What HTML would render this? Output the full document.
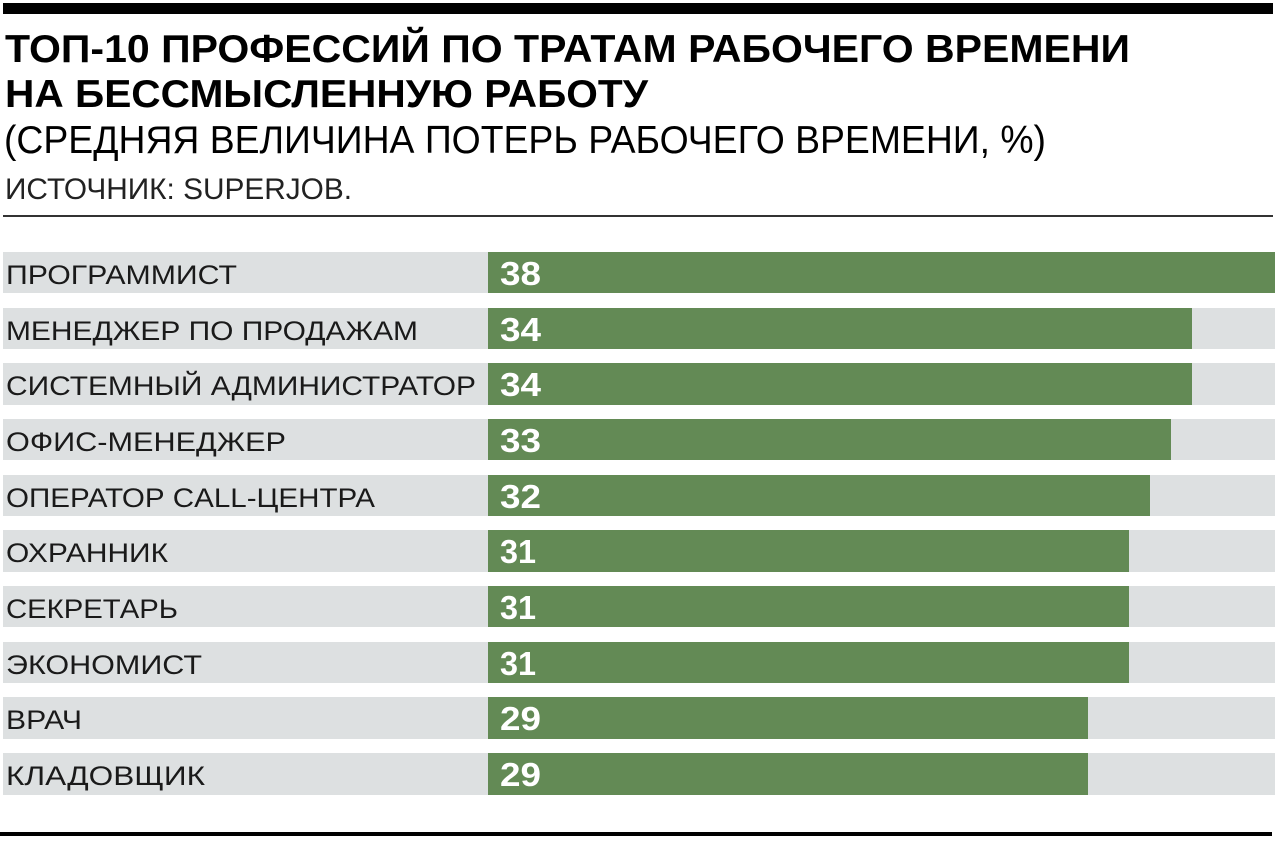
<!DOCTYPE html>
<html><head><meta charset="utf-8"><style>
html,body{margin:0;padding:0;background:#fff;width:1280px;height:845px;overflow:hidden}
svg{display:block}
</style></head><body>
<svg width="1280" height="845" viewBox="0 0 1280 845" xmlns="http://www.w3.org/2000/svg" font-family="Liberation Sans, sans-serif">
<rect x="3" y="3" width="1270" height="11" fill="#000"/>
<text x="5" y="62" font-size="39" font-weight="bold" textLength="1125" lengthAdjust="spacingAndGlyphs">ТОП-10 ПРОФЕССИЙ ПО ТРАТАМ РАБОЧЕГО ВРЕМЕНИ</text>
<text x="5" y="107" font-size="39" font-weight="bold" textLength="643" lengthAdjust="spacingAndGlyphs">НА БЕССМЫСЛЕННУЮ РАБОТУ</text>
<text x="4" y="153" font-size="39" textLength="1042" lengthAdjust="spacingAndGlyphs">(СРЕДНЯЯ ВЕЛИЧИНА ПОТЕРЬ РАБОЧЕГО ВРЕМЕНИ, %)</text>
<text x="5" y="199" font-size="30" fill="#222" textLength="347" lengthAdjust="spacingAndGlyphs">ИСТОЧНИК: SUPERJOB.</text>
<rect x="3" y="215" width="1270" height="2" fill="#333"/>
<g fill="#dde0e1">
<rect x="3" y="252" width="1272" height="41"/><rect x="3" y="308" width="1272" height="41"/><rect x="3" y="363" width="1272" height="42"/><rect x="3" y="419" width="1272" height="41"/><rect x="3" y="475" width="1272" height="41"/><rect x="3" y="530" width="1272" height="42"/><rect x="3" y="586" width="1272" height="41"/><rect x="3" y="642" width="1272" height="41"/><rect x="3" y="697" width="1272" height="42"/><rect x="3" y="753" width="1272" height="42"/>
</g>
<g fill="#638a55">
<rect x="488" y="252" width="787" height="41"/><rect x="488" y="308" width="704" height="41"/><rect x="488" y="363" width="704" height="42"/><rect x="488" y="419" width="683" height="41"/><rect x="488" y="475" width="662" height="41"/><rect x="488" y="530" width="641" height="42"/><rect x="488" y="586" width="641" height="41"/><rect x="488" y="642" width="641" height="41"/><rect x="488" y="697" width="600" height="42"/><rect x="488" y="753" width="600" height="42"/>
</g>
<g font-size="27" fill="#1a1a1a">
<text x="6" y="284" textLength="231" lengthAdjust="spacingAndGlyphs">ПРОГРАММИСТ</text>
<text x="6" y="340" textLength="412" lengthAdjust="spacingAndGlyphs">МЕНЕДЖЕР ПО ПРОДАЖАМ</text>
<text x="6" y="395" textLength="470" lengthAdjust="spacingAndGlyphs">СИСТЕМНЫЙ АДМИНИСТРАТОР</text>
<text x="6" y="451" textLength="280" lengthAdjust="spacingAndGlyphs">ОФИС-МЕНЕДЖЕР</text>
<text x="6" y="507" textLength="369" lengthAdjust="spacingAndGlyphs">ОПЕРАТОР CALL-ЦЕНТРА</text>
<text x="6" y="562" textLength="162" lengthAdjust="spacingAndGlyphs">ОХРАННИК</text>
<text x="6" y="618" textLength="172" lengthAdjust="spacingAndGlyphs">СЕКРЕТАРЬ</text>
<text x="6" y="674" textLength="196" lengthAdjust="spacingAndGlyphs">ЭКОНОМИСТ</text>
<text x="6" y="729" textLength="76" lengthAdjust="spacingAndGlyphs">ВРАЧ</text>
<text x="6" y="785" textLength="199" lengthAdjust="spacingAndGlyphs">КЛАДОВЩИК</text>
</g>
<g font-size="33" font-weight="bold" fill="#fff">
<text x="500" y="285" textLength="41" lengthAdjust="spacingAndGlyphs">38</text><text x="500" y="341" textLength="41" lengthAdjust="spacingAndGlyphs">34</text><text x="500" y="396" textLength="41" lengthAdjust="spacingAndGlyphs">34</text><text x="500" y="452" textLength="41" lengthAdjust="spacingAndGlyphs">33</text><text x="500" y="508" textLength="41" lengthAdjust="spacingAndGlyphs">32</text><text x="500" y="563" textLength="36" lengthAdjust="spacingAndGlyphs">31</text><text x="500" y="619" textLength="36" lengthAdjust="spacingAndGlyphs">31</text><text x="500" y="675" textLength="36" lengthAdjust="spacingAndGlyphs">31</text><text x="500" y="730" textLength="41" lengthAdjust="spacingAndGlyphs">29</text><text x="500" y="786" textLength="41" lengthAdjust="spacingAndGlyphs">29</text>
</g>
<rect x="0" y="832" width="1272" height="4" fill="#000"/>
</svg>
</body></html>
